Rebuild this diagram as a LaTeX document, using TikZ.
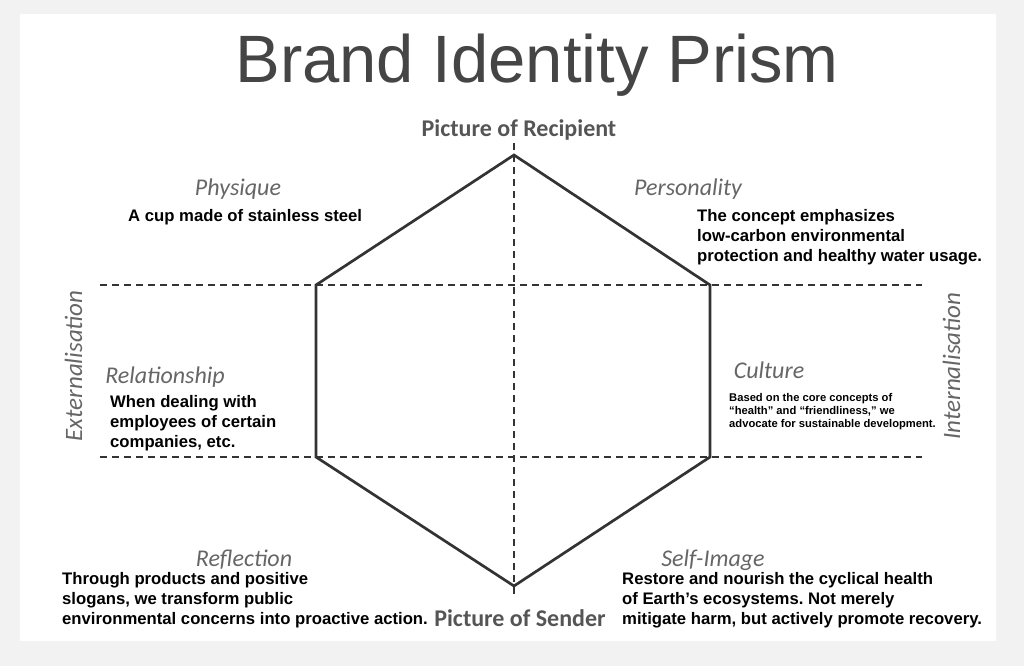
\documentclass[tikz,border=0pt]{standalone}
\usepackage{fontspec}
\setmainfont{Liberation Sans}
\newfontfamily\carlito{Carlito}
\definecolor{bggray}{HTML}{F2F2F2}
\definecolor{titlegray}{HTML}{454545}
\definecolor{polegray}{HTML}{555555}
\definecolor{facegray}{HTML}{666666}
\definecolor{linegray}{HTML}{333333}
\frenchspacing
\begin{document}
\begin{tikzpicture}[x=1pt, y=-1pt,
		facename/.style={font=\carlito\itshape\fontsize{24}{28}\selectfont, text=facegray, anchor=base, inner sep=0pt},
		polename/.style={font=\carlito\bfseries\fontsize{24}{28}\selectfont, text=polegray, anchor=base, inner sep=0pt},
		sidename/.style={font=\carlito\itshape\fontsize{25}{28}\selectfont, text=facegray, anchor=base, inner sep=0pt, rotate=90},
		facetext/.style={font=\bfseries\fontsize{16.7}{20}\selectfont, align=left, anchor=north west, inner sep=0pt},
		prismline/.style={draw=linegray, line width=2.7pt, line join=miter},
		axisline/.style={draw=linegray, line width=1.6pt, dash pattern=on 7pt off 5pt}]
			\useasboundingbox (0,0) rectangle (1024,666);
			\fill [bggray] (0,0) rectangle (1024,666);
			\fill [white] (20,14) rectangle (996,641);
			% title
			\node [anchor=base, inner sep=0pt, text=titlegray, font=\fontsize{67}{80}\selectfont] (title) at (537,83) {Brand Identity Prism};
			% prism corners
			\coordinate (top) at (514,155);
			\coordinate (upleft) at (316,285);
			\coordinate (upright) at (710,285);
			\coordinate (lowleft) at (316,457);
			\coordinate (lowright) at (710,457);
			\coordinate (bottom) at (514,586);
			% ends of the dashed axes
			\coordinate (axistop) at (514,143);
			\coordinate (axisbottom) at (514,597);
			\coordinate (upwest) at (100,285);
			\coordinate (upeast) at (922,285);
			\coordinate (lowwest) at (100,457);
			\coordinate (loweast) at (922,457);
			\draw [axisline] (axistop) -- (axisbottom);
			\draw [axisline] (upwest) -- (upeast);
			\draw [axisline] (lowwest) -- (loweast);
			\draw [prismline] (top) -- (upright) -- (lowright) -- (bottom) -- (lowleft) -- (upleft) -- cycle;
			% poles and sides
			\node [polename] (recipient) at (519,136) {Picture of Recipient};
			\node [polename] (sender) at (520,626) {Picture of Sender};
			\node [sidename] (external) at (82,366) {Externalisation};
			\node [sidename] (internal) at (960,366) {Internalisation};
			% facets
			\node [facename] (physique) at (238,195) {Physique};
			\node [facename] (personality) at (688,195) {Personality};
			\node [facename] (relationship) at (165,383) {Relationship};
			\node [facename] (culture) at (769,378) {Culture};
			\node [facename] (reflection) at (244,566) {Reflection};
			\node [facename] (selfimage) at (713,566) {Self-Image};
			\node [facetext] (physiquetext) at (128,209) {A cup made of stainless steel};
			\node [facetext] (personalitytext) at (697,209) {The concept emphasizes\\low-carbon environmental\\protection and healthy water usage.};
			\node [facetext] (relationshiptext) at (110,395) {When dealing with\\employees of certain\\companies, etc.};
			\node [facetext, font=\bfseries\fontsize{11.2}{13.3}\selectfont] (culturetext) at (729,393) {Based on the core concepts of\\``health'' and ``friendliness,'' we\\advocate for sustainable development.};
			\node [facetext] (reflectiontext) at (62,572) {Through products and positive\\slogans, we transform public\\environmental concerns into proactive action.};
			\node [facetext] (selfimagetext) at (622,572) {Restore and nourish the cyclical health\\of Earth's ecosystems. Not merely\\mitigate harm, but actively promote recovery.};
		\end{tikzpicture}
\end{document}
